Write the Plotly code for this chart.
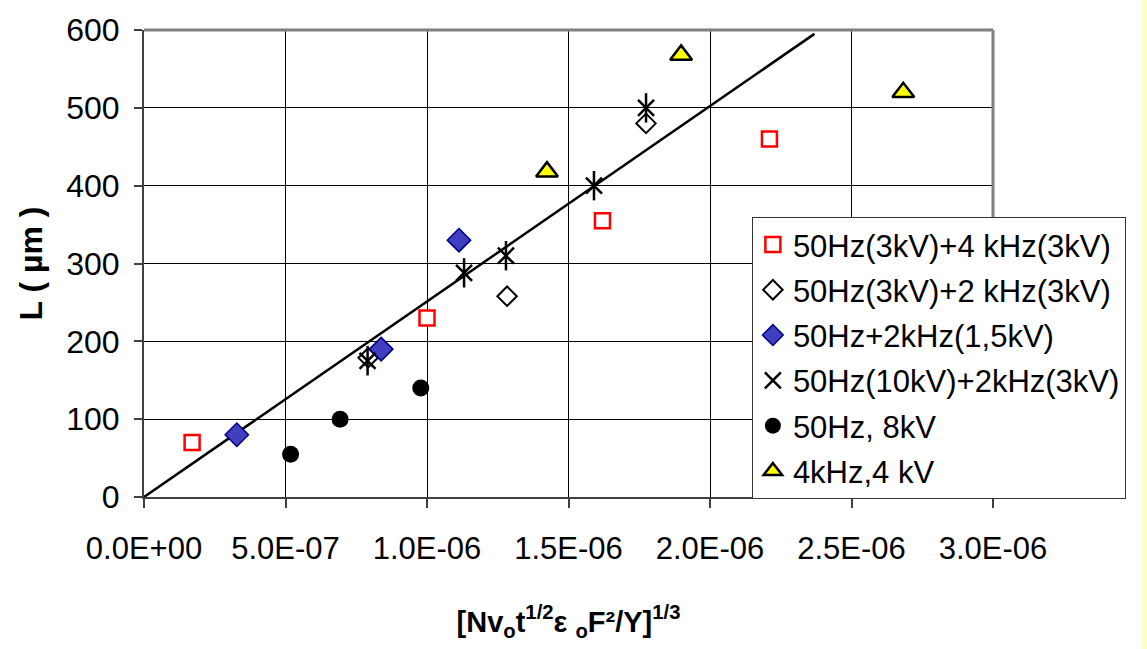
import plotly.graph_objects as go

# Measured crack length L (µm) versus the scaling parameter [N v_o t^1/2 ε_o F²/Y]^1/3
sq_x = [1.70e-7, 1.00e-6, 1.62e-6, 2.21e-6]
sq_y = [70, 230, 355, 460]

od_x = [7.92e-7, 1.283e-6, 1.774e-6]
od_y = [179, 258, 480]

bd_x = [3.28e-7, 8.38e-7, 1.113e-6]
bd_y = [80, 190, 330]

st_x = [7.90e-7, 1.131e-6, 1.279e-6, 1.590e-6, 1.774e-6]
st_y = [175, 288, 310, 400, 500]

ci_x = [5.18e-7, 6.93e-7, 9.78e-7]
ci_y = [55, 100, 140]

tr_x = [1.424e-6, 1.898e-6, 2.683e-6]
tr_y = [418, 568, 520]

fit_x = [0.0, 2.369e-6]
fit_y = [0.0, 595]

x_ticks = [0, 5e-7, 1e-6, 1.5e-6, 2e-6, 2.5e-6, 3e-6]
x_tick_labels = ["0.0E+00", "5.0E-07", "1.0E-06", "1.5E-06", "2.0E-06", "2.5E-06", "3.0E-06"]
y_ticks = [0, 100, 200, 300, 400, 500, 600]

names = [
    "50Hz(3kV)+4 kHz(3kV)",
    "50Hz(3kV)+2 kHz(3kV)",
    "50Hz+2kHz(1,5kV)",
    "50Hz(10kV)+2kHz(3kV)",
    "50Hz, 8kV",
    "4kHz,4 kV",
]

FONT = "Arial, 'Liberation Sans', sans-serif"

fig = go.Figure()

fig.add_trace(go.Scatter(
    x=fit_x, y=fit_y, mode="lines", line=dict(color="black", width=2.5),
    showlegend=False, hoverinfo="skip"))

fig.add_trace(go.Scatter(
    x=sq_x, y=sq_y, mode="markers", name=names[0], legendgroup="g1",
    marker=dict(symbol="square", size=15, color="white",
                line=dict(color="#FF0000", width=2.5))))

fig.add_trace(go.Scatter(
    x=od_x, y=od_y, mode="markers", name=names[1], legendgroup="g2",
    marker=dict(symbol="diamond", size=15, color="white",
                line=dict(color="black", width=2))))

fig.add_trace(go.Scatter(
    x=bd_x, y=bd_y, mode="markers", name=names[2], legendgroup="g3",
    marker=dict(symbol="diamond", size=18, color="#3F3FC0",
                line=dict(color="#000080", width=1.5))))

# star marker: an X crossed by a vertical stroke
fig.add_trace(go.Scatter(
    x=st_x, y=st_y, mode="markers", name=names[3], legendgroup="g4",
    marker=dict(symbol="x-thin-open", size=16, color="black",
                line=dict(color="black", width=2.5))))
fig.add_trace(go.Scatter(
    x=st_x, y=st_y, mode="markers", legendgroup="g4", showlegend=False,
    marker=dict(symbol="line-ns-open", size=21, color="black",
                line=dict(color="black", width=2.5))))

fig.add_trace(go.Scatter(
    x=ci_x, y=ci_y, mode="markers", name=names[4], legendgroup="g5",
    marker=dict(symbol="circle", size=17, color="black",
                line=dict(color="black", width=0))))

fig.add_trace(go.Scatter(
    x=tr_x, y=tr_y, mode="markers", name=names[5], legendgroup="g6",
    marker=dict(symbol="triangle-up", size=19, color="#FFFF00",
                line=dict(color="black", width=2.5))))

fig.update_layout(
    width=1147, height=649,
    margin=dict(l=144, r=154, t=27, b=152),
    paper_bgcolor="white", plot_bgcolor="white",
    font=dict(family=FONT, color="black", size=30),
    legend=dict(
        x=0.716, y=0.6, xanchor="left", yanchor="top",
        bgcolor="white", bordercolor="#333333", borderwidth=1,
        font=dict(family=FONT, size=31, color="black"),
        traceorder="grouped", tracegroupgap=2, itemwidth=30,
    ),
    xaxis=dict(
        range=[0, 3e-6], tickvals=x_ticks, ticktext=x_tick_labels,
        showgrid=True, gridcolor="black", gridwidth=1,
        showline=True, linecolor="#404040", linewidth=2,
        ticks="outside", ticklen=9, tickcolor="#404040", tickwidth=1.5,
        tickfont=dict(family=FONT, size=31), ticklabelstandoff=14,
        zeroline=False,
        title=dict(text="<b>[Nv<sub>o</sub>t<sup>1/2</sup>ε <sub>o</sub>F²/Y]<sup>1/3</sup></b>",
                   font=dict(family=FONT, size=29), standoff=46),
    ),
    yaxis=dict(
        range=[0, 600], tickvals=y_ticks,
        showgrid=True, gridcolor="black", gridwidth=1,
        showline=True, linecolor="#404040", linewidth=2,
        ticks="outside", ticklen=8, tickcolor="#404040", tickwidth=1.5,
        tickfont=dict(family=FONT, size=32), ticklabelstandoff=8,
        zeroline=False,
        title=dict(text="<b>L ( µm )</b>", font=dict(family=FONT, size=32), standoff=14),
    ),
    shapes=[
        # grey frame on top and right of the plot area
        dict(type="line", xref="paper", yref="paper", x0=0, x1=1, y0=1, y1=1,
             line=dict(color="#808080", width=3)),
        dict(type="line", xref="paper", yref="paper", x0=1, x1=1, y0=0, y1=1,
             line=dict(color="#808080", width=3)),
        # pale yellow strip at the right page edge
        dict(type="rect", xref="paper", yref="paper", x0=1.1755, x1=1.20, y0=-1, y1=2,
             fillcolor="#FFFFC8", line=dict(width=0), layer="below"),
    ],
)

fig.write_html("out.html")
